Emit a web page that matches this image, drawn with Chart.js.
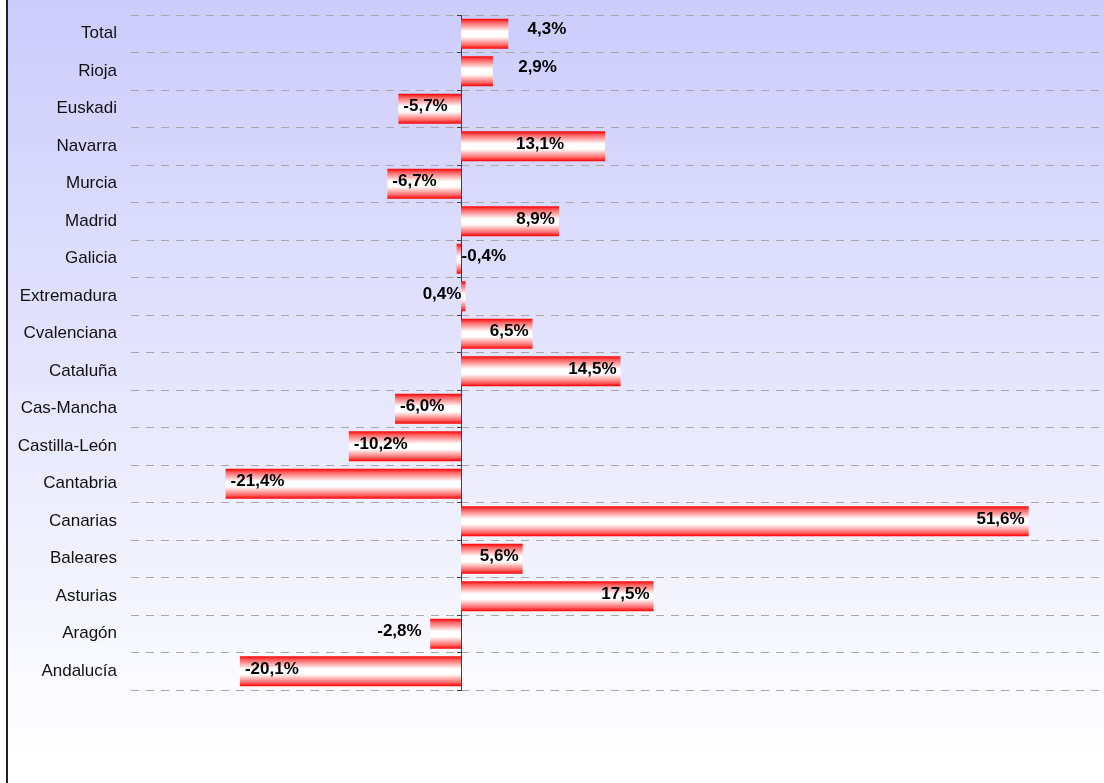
<!DOCTYPE html>
<html>
<head>
<meta charset="utf-8">
<script src="https://cdn.jsdelivr.net/npm/chart.js@4/dist/chart.umd.min.js"></script>
<style>
body{margin:0;background:#fff;}
canvas{display:block;}
</style>
</head>
<body>
<canvas id="regiones" width="1104" height="783"></canvas>
<script>
// comunidades, de arriba a abajo
var comunidades=["Total","Rioja","Euskadi","Navarra","Murcia","Madrid","Galicia","Extremadura","Cvalenciana","Cataluña","Cas-Mancha","Castilla-León","Cantabria","Canarias","Baleares","Asturias","Aragón","Andalucía"];
var variacion=[4.3,2.9,-5.7,13.1,-6.7,8.9,-0.4,0.4,6.5,14.5,-6.0,-10.2,-21.4,51.6,5.6,17.5,-2.8,-20.1];
var ejeMin=-30;
var ejeMax=58.45;

// etiquetas que no caen en su sitio habitual
var ajusteX={"Total":62,"Rioja":68,"Navarra":-37,"Aragón":-58};
var ajusteY={"Total":-2,"Rioja":-2};

function relleno(c){
  var chart=c.chart;
  var ya=chart.scales.y;
  if(!ya || c.dataIndex===undefined || !ya.height) return '#ff0000';
  var yc=ya.getPixelForValue(c.dataIndex);
  var h=ya.height/comunidades.length*0.8;
  var g=chart.ctx.createLinearGradient(0,yc-h/2,0,yc+h/2);
  g.addColorStop(0,'#ff0000');
  g.addColorStop(0.12,'#ff6060');
  g.addColorStop(0.42,'#ffffff');
  g.addColorStop(0.6,'#ffffff');
  g.addColorStop(0.87,'#ff6a6a');
  g.addColorStop(1,'#ff0000');
  return g;
}

var fondo={
  id:'fondo',
  beforeDraw:function(chart){
    var ctx=chart.ctx;
    ctx.save();
    ctx.fillStyle='#ffffff';
    ctx.fillRect(0,0,chart.width,chart.height);
    var g=ctx.createLinearGradient(0,0,0,760);
    g.addColorStop(0,'#ccccfc');
    g.addColorStop(1,'#ffffff');
    ctx.fillStyle=g;
    ctx.fillRect(7,0,chart.width-7,chart.height);
    ctx.fillStyle='#202020';
    ctx.fillRect(6,0,2,chart.height);
    ctx.restore();
  }
};

var etiquetas={
  id:'etiquetas',
  afterDatasetsDraw:function(chart){
    var ctx=chart.ctx;
    var meta=chart.getDatasetMeta(0);
    ctx.save();
    ctx.font='bold 17px "Liberation Sans", Arial, sans-serif';
    ctx.fillStyle='#000';
    ctx.textBaseline='middle';
    meta.data.forEach(function(bar,i){
      var v=variacion[i];
      var txt=v.toFixed(1).replace('.',',')+'%';
      var dx=ajusteX[comunidades[i]]||0;
      var dy=(ajusteY[comunidades[i]]||0)-2;
      if(v>=0){
        ctx.textAlign='right';
        ctx.fillText(txt,bar.x-4+dx,bar.y+dy);
      }else{
        ctx.textAlign='left';
        ctx.fillText(txt,bar.x+5+dx,bar.y+dy);
      }
    });
    ctx.restore();
  }
};

function sinRelleno(s){
  s.paddingTop=0;s.paddingBottom=0;s.paddingLeft=0;s.paddingRight=0;
}

var ctx=document.getElementById("regiones");
var grafico=new Chart(ctx,{
  type:'bar',
  data:{
    labels:comunidades,
    datasets:[{
      label:'Variación',
      data:variacion,
      backgroundColor:relleno,
      borderWidth:0,
      barPercentage:0.8,
      categoryPercentage:1.0
    }]
  },
  options:{
    indexAxis:'y',
    responsive:false,
    animation:false,
    layout:{padding:{top:15,bottom:93,left:0,right:0}},
    plugins:{legend:{display:false},tooltip:{enabled:false}},
    scales:{
      x:{
        display:false,
        min:ejeMin,
        max:ejeMax
      },
      y:{
        position:'left',
        offset:true,
        afterFit:function(s){s.width=131;sinRelleno(s);},
        grid:{offset:true,drawTicks:false,color:'#a8a8a8',lineWidth:1},
        border:{display:false,dash:[8,7]},
        ticks:{
          padding:14,
          color:'#111',
          font:{family:'"Liberation Sans", Arial, sans-serif',size:17}
        }
      },
      y2:{
        type:'category',
        axis:'y',
        position:{x:0},
        offset:true,
        z:1,
        afterFit:function(s){s.width=0;sinRelleno(s);},
        grid:{offset:true,drawOnChartArea:false,tickLength:4,color:'#404040'},
        border:{color:'#404040',width:1},
        ticks:{display:false}
      }
    }
  },
  plugins:[fondo,etiquetas]
});
</script>
</body>
</html>
